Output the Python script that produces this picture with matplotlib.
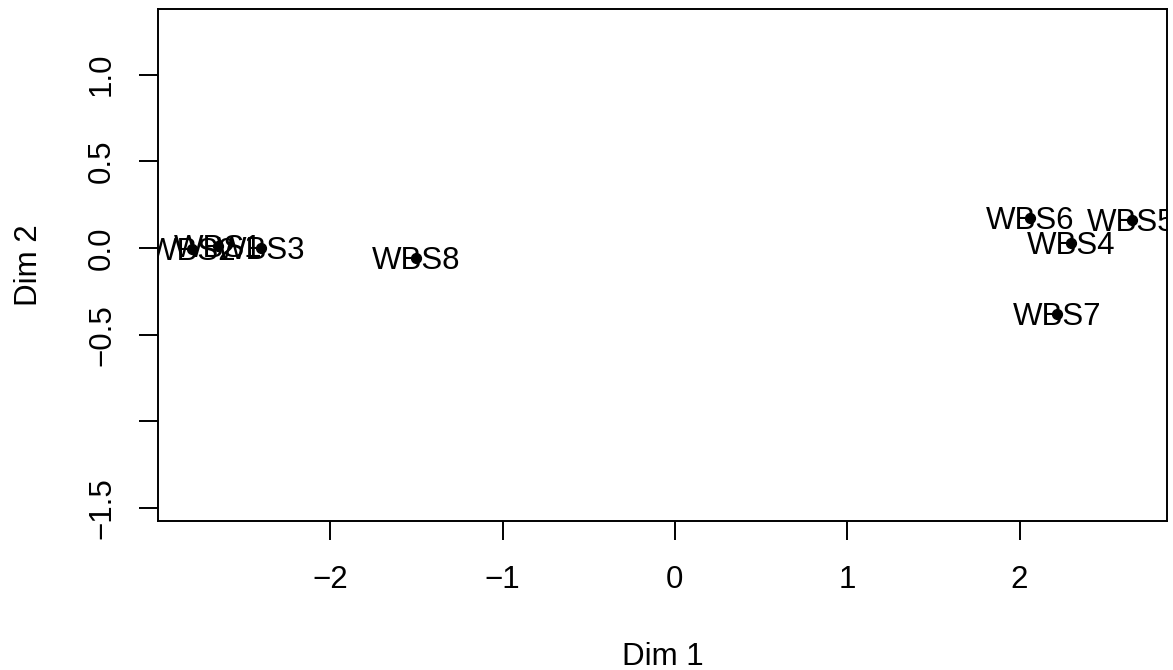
import matplotlib
matplotlib.use('Agg')
import matplotlib.pyplot as plt
import matplotlib.transforms as mtransforms

samples = ['WBS1', 'WBS2', 'WBS3', 'WBS4', 'WBS5', 'WBS6', 'WBS7', 'WBS8']
dim1 = [-2.65, -2.80, -2.40, 2.30, 2.65, 2.06, 2.22, -1.50]
dim2 = [0.01, -0.005, 0.00, 0.03, 0.16, 0.175, -0.38, -0.055]

xticks = [-2, -1, 0, 1, 2]
yticks = [-1.5, -1.0, -0.5, 0.0, 0.5, 1.0]
ytick_labels = ['\u22121.5', '', '\u22120.5', '0.0', '0.5', '1.0']

plt.rcParams['font.family'] = ['Liberation Sans', 'DejaVu Sans']
fs = 22.5

fig = plt.figure(figsize=(11.73, 6.70), dpi=100)
ax = fig.add_axes([158/1173, 1 - 521/670, (1167 - 158)/1173, (521 - 9.4)/670])

ax.scatter(dim1, dim2, s=50, color='black', zorder=3)

# labels centered on the points, clipped to the plot region
off = mtransforms.offset_copy(ax.transData, fig=fig, x=0, y=-8, units='points')
for x, y, lab in zip(dim1, dim2, samples):
    ax.text(x, y, lab, transform=off, ha='center', va='baseline',
            fontsize=fs, clip_on=True)

ax.set_xlim(-3.0, 2.856)
ax.set_ylim(-1.574, 1.376)

ax.set_xticks(xticks)
ax.set_xticklabels([str(t).replace('-', '\u2212') for t in xticks])
ax.set_yticks(yticks)
ax.set_yticklabels(ytick_labels, rotation=90, va='center')

ax.tick_params(axis='both', length=13.5, width=1.4, labelsize=fs, direction='out')
ax.tick_params(axis='x', pad=18)
ax.tick_params(axis='y', pad=16)

for sp in ax.spines.values():
    sp.set_linewidth(1.4)

ax.set_xlabel('Dim 1', fontsize=fs, labelpad=34)
ax.set_ylabel('Dim 2', fontsize=fs, labelpad=31)

fig.savefig('out.png', dpi=100)
